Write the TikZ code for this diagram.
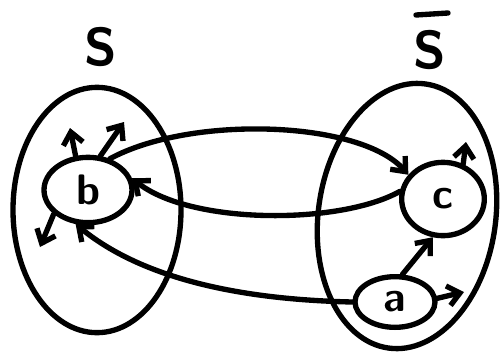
\documentclass[tikz,border=0pt]{standalone}
\usetikzlibrary{shapes.geometric,arrows.meta}
\begin{document}
\begin{tikzpicture}[x=0.75pt,y=-0.75pt,
  line width=4pt, line cap=round, line join=round,
  setbox/.style={draw, ellipse, inner sep=0pt},
  vert/.style={draw, ellipse, inner sep=0pt, font=\sffamily\bfseries\fontsize{32}{32}\selectfont},
  lbl/.style={font=\sffamily\bfseries\fontsize{40}{40}\selectfont},
  arr/.style={-{Straight Barb[length=9pt,width=15pt,line width=4pt]}}]
\useasboundingbox (0,0) rectangle (504,358);
% sets
\node[setbox, minimum width=126pt, minimum height=184pt] (S) at (97,210) {};
\node[setbox, minimum width=133pt, minimum height=200pt, rotate=-8] (T) at (407,216) {};
\node[lbl] (Sl) at (101,47) {S};
\node[lbl] (Tl) at (430,50) {S};
\coordinate (bar1) at (416,15);
\coordinate (bar2) at (448,13);
\draw (bar1) -- (bar2);
% vertices
\node[vert, minimum width=66pt, minimum height=49pt] (b) at (88,190) {b};
\node[vert, minimum width=62pt, minimum height=55pt] (c) at (443,199) {c};
\node[vert, minimum width=60pt, minimum height=38pt] (a) at (395,302) {a};
% free ends
\coordinate (b1) at (70,128);
\coordinate (b2) at (124,122);
\coordinate (b3) at (40,247);
\coordinate (c1) at (466,142);
\coordinate (a1) at (464,292);
% connectors
\draw[arr] (b.55) .. controls (190,115) and (360,120) .. (c.145);
\draw[arr] (c.170) .. controls (340,225) and (190,225) .. (b.15);
\draw[arr] (a.180) .. controls (260,300) and (150,285) .. (b.250);
\draw[arr] (a.75) -- (c.255);
\draw[arr] (b.110) -- (b1);
\draw[arr] (b.70) -- (b2);
\draw[arr] (b.215) -- (b3);
\draw[arr] (c.60) -- (c1);
\draw[arr] (a.5) -- (a1);
\end{tikzpicture}
\end{document}
